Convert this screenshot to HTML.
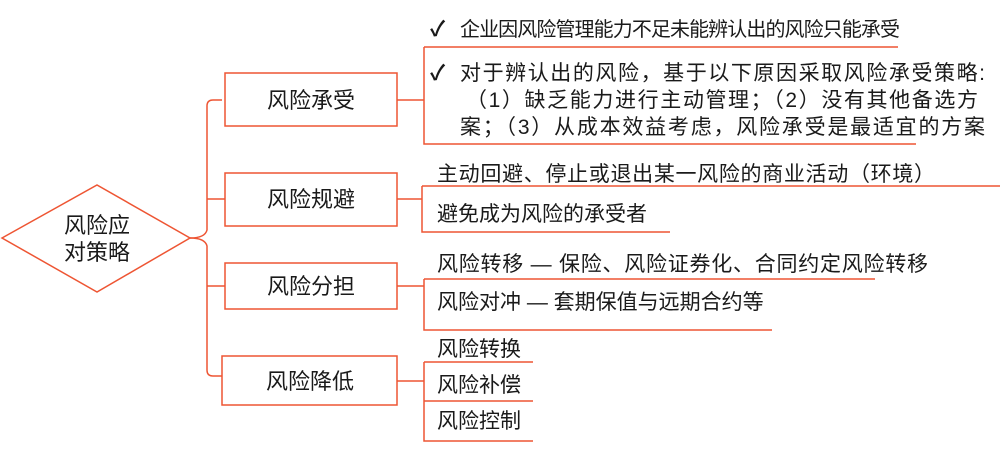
<!DOCTYPE html>
<html><head><meta charset="utf-8"><style>
html,body{margin:0;padding:0;background:#fff;}
svg{display:block;}
text{font-family:"Liberation Sans","Noto Sans CJK SC",sans-serif;fill:#1a1a1a;}
</style></head><body>
<svg width="1000" height="453" viewBox="0 0 1000 453" xmlns="http://www.w3.org/2000/svg">
<g fill="none" stroke="#ee5533" stroke-width="1.5">
<polygon points="2,238 97,185 190,238 97,292"/>
<path d="M190,238 Q205,238 207,230 L207,106 Q207,100 213,100 L222,100"/>
<path d="M190,238 Q205,238 207,246 L207,370 Q207,376 213,376 L222,376"/>
<path d="M207,199 L225,199 M207,286 L225,286"/>
<rect x="225" y="73" width="172" height="53"/>
<rect x="225" y="173" width="172" height="53"/>
<rect x="225" y="263" width="172" height="46"/>
<rect x="222" y="356" width="175" height="49"/>
<path d="M397,100 L424,100 M424,47 L898,47 M424,47 L424,144 L916,144"/>
<path d="M397,199 L422,199 M422,186 L1000,186 M422,186 L422,232 L670,232"/>
<path d="M397,286 L424,286 M424,279 L875,279 M424,279 L424,330 L772,330"/>
<path d="M397,381 L424,381 M424,362 L533,362 M424,362 L424,441 L533,441 M424,401 L533,401"/>
</g>
<g font-size="22">
<text x="97" y="233" text-anchor="middle">风险应</text>
<text x="97" y="260" text-anchor="middle">对策略</text>
</g>
<g font-size="22" text-anchor="middle">
<text x="311" y="108">风险承受</text>
<text x="311" y="207">风险规避</text>
<text x="311" y="294">风险分担</text>
<text x="310" y="389">风险降低</text>
</g>
<g font-size="21">
<text x="430" y="36" font-weight="bold">✓</text>
<text x="460" y="36" font-size="20" textLength="440">企业因风险管理能力不足未能辨认出的风险只能承受</text>
<text x="430" y="80" font-weight="bold">✓</text>
<text x="460" y="80" textLength="525">对于辨认出的风险，基于以下原因采取风险承受策略:</text>
<text x="466" y="107" textLength="512">（1）缺乏能力进行主动管理；（2）没有其他备选方</text>
<text x="460" y="134" textLength="525">案；（3）从成本效益考虑，风险承受是最适宜的方案</text>
<text x="437" y="181" textLength="498">主动回避、停止或退出某一风险的商业活动（环境）</text>
<text x="437" y="221">避免成为风险的承受者</text>
<text x="437" y="271" textLength="491">风险转移 — 保险、风险证券化、合同约定风险转移</text>
<text x="437" y="309">风险对冲 — 套期保值与远期合约等</text>
<text x="437" y="356">风险转换</text>
<text x="437" y="392">风险补偿</text>
<text x="437" y="428">风险控制</text>
</g>
</svg>
</body></html>
